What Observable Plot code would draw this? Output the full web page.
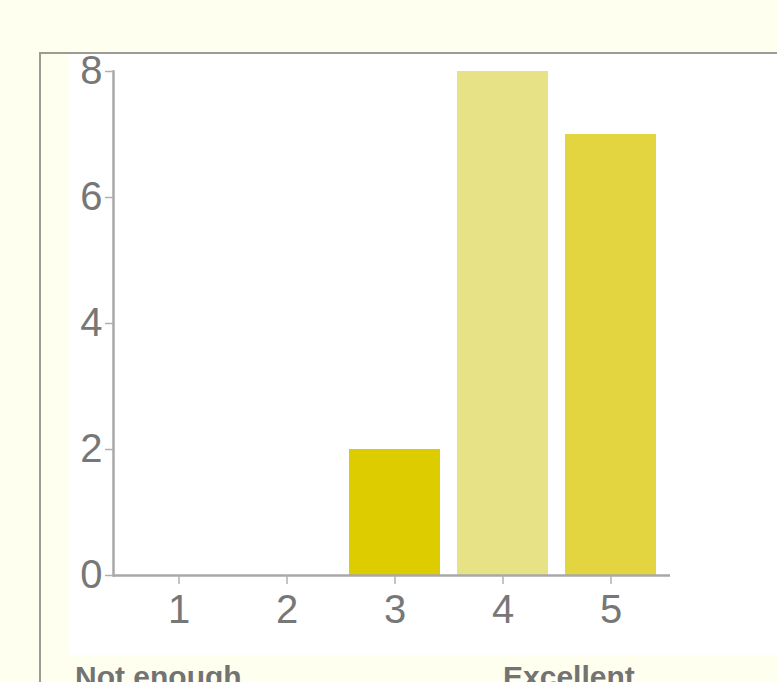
<!DOCTYPE html>
<html>
<head>
<meta charset="utf-8">
<script src="https://cdn.jsdelivr.net/npm/d3@7"></script>
<script src="https://cdn.jsdelivr.net/npm/@observablehq/plot@0.6"></script>
<style>
  html, body { margin: 0; padding: 0; width: 777px; height: 682px; overflow: hidden; background: #fffff0; }
  #panel { position: absolute; left: 39px; top: 52px; width: 800px; height: 700px;
           border-left: 2px solid #9c9c94; border-top: 2px solid #9c9c94; background: #fffff0; }
  #chart { position: absolute; left: 69px; top: 54px; }
  #chart svg { overflow: visible; }
  .scale-end { position: absolute; top: 662px; font: bold 30px "Liberation Sans", Arial, sans-serif;
               color: #737373; white-space: nowrap; line-height: 1; }
</style>
</head>
<body>
<div id="panel"></div>
<div id="chart"></div>
<div class="scale-end" id="low" style="left:75px"></div>
<div class="scale-end" id="high" style="left:503px"></div>
<script>
// Rating scale and number of responses for each rating
const ratings = ["1", "2", "3", "4", "5"];
const counts = [0, 0, 2, 8, 7];
const yTicks = [0, 2, 4, 6, 8];
const scaleEnds = ["Not enough", "Excellent"];

const rows = ratings.map((r, i) => ({rating: r, count: counts[i]}));

const chart = Plot.plot({
  width: 708,
  height: 601,
  marginTop: 17,
  marginBottom: 80,
  marginLeft: 44,
  marginRight: 107,
  style: {background: "white", fontFamily: "'Liberation Sans', Arial, sans-serif", color: "#777"},
  x: {domain: ratings, paddingInner: 0.157, paddingOuter: 0.157, align: 0.588},
  y: {domain: [0, 8]},
  color: {domain: ratings, range: ["#dccc00", "#dccc00", "#dccc00", "#e8e286", "#e3d540"]},
  marks: [
    Plot.barY(rows, {x: "rating", y: "count", fill: "rating"}),
    Plot.ruleY([0], {stroke: "#a8a8a8", strokeWidth: 2.5}),
    Plot.frame({anchor: "left", stroke: "#a8a8a8", strokeWidth: 2.5}),
    Plot.axisY({ticks: yTicks, tickSize: 8, tickPadding: 3, stroke: "#b0b0b0", fill: "#777",
                fontSize: 40, label: null, strokeWidth: 1.5}),
    Plot.axisX({tickSize: 9, tickPadding: 10, stroke: "#b0b0b0", fill: "#777",
                fontSize: 40, label: null, strokeWidth: 1.5})
  ]
});

document.getElementById("chart").appendChild(chart);
document.getElementById("low").textContent = scaleEnds[0];
document.getElementById("high").textContent = scaleEnds[1];
</script>
</body>
</html>
